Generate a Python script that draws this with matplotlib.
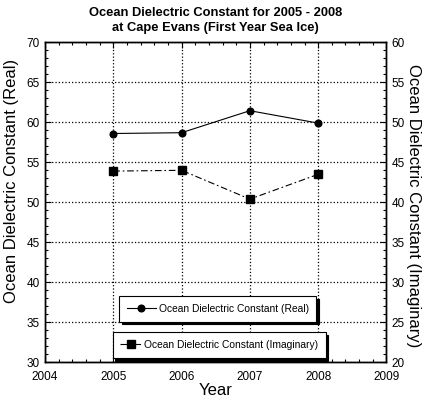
import numpy as np
import matplotlib
matplotlib.use("Agg")
import matplotlib.pyplot as plt
from matplotlib.ticker import MultipleLocator

plt.rcParams["font.family"] = ["Liberation Sans", "DejaVu Sans"]

# ---------------------------------------------------------------------------
# Data
# ---------------------------------------------------------------------------
years = [2005, 2006, 2007, 2008]
real_vals = [58.6, 58.7, 61.45, 59.9]
imag_vals = [43.9, 44.0, 40.4, 43.5]

# ---------------------------------------------------------------------------
# Plot
# ---------------------------------------------------------------------------
fig = plt.figure(figsize=(4.24, 3.98), dpi=100)
ax = fig.add_axes([0.106, 0.0897, 0.8055, 0.804])
ax2 = ax.twinx()

l1, = ax.plot(years, real_vals, color="black", lw=0.8, marker="o", ms=4.8,
              label="Ocean Dielectric Constant (Real)")
l2, = ax2.plot(years, imag_vals, color="black", lw=0.8, marker="s", ms=5.5,
               dashes=(6, 2.5, 1.5, 2.5),
               label="Ocean Dielectric Constant (Imaginary)")

ax.set_xlim(2004, 2009)
ax.set_ylim(30, 70)
ax2.set_ylim(20, 60)

ax.xaxis.set_major_locator(MultipleLocator(1))
ax.xaxis.set_minor_locator(MultipleLocator(0.2))
ax.yaxis.set_major_locator(MultipleLocator(5))
ax.yaxis.set_minor_locator(MultipleLocator(1))
ax2.yaxis.set_major_locator(MultipleLocator(5))
ax2.yaxis.set_minor_locator(MultipleLocator(1))

for a in (ax, ax2):
    a.tick_params(which="both", direction="in", labelsize=8.5, width=0.8)
    a.tick_params(which="major", length=4)
    a.tick_params(which="minor", length=2.5)
    for sp in a.spines.values():
        sp.set_linewidth(1.0)
ax.tick_params(axis="x", which="both", top=True, pad=6)

ax.grid(True, which="major", color="black", linestyle=":", lw=0.9)

ax.set_xlabel("Year", fontsize=12, labelpad=0)
ax.set_ylabel("Ocean Dielectric Constant (Real)", fontsize=12, va="center")
ax.yaxis.set_label_coords(-0.097, 0.567)
ax2.set_ylabel("Ocean Dielectric Constant (Imaginary)", fontsize=12,
               rotation=270, va="center")
ax2.yaxis.set_label_coords(1.08, 0.488)
ax.set_title("Ocean Dielectric Constant for 2005 - 2008\n"
             "at Cape Evans (First Year Sea Ice)",
             fontsize=9.3, fontweight="bold", pad=8, linespacing=1.3)

shadow = {"color": "black", "alpha": 1.0}
leg_kw = dict(loc="center", fontsize=7.4, fancybox=False, shadow=shadow,
              framealpha=1, edgecolor="black", handletextpad=0.3,
              borderpad=0.75, borderaxespad=0)
leg1 = ax2.legend(handles=[l1], bbox_to_anchor=(0.506, 0.167),
                  handlelength=2.8, **leg_kw)
leg1.get_frame().set_linewidth(0.8)
ax2.add_artist(leg1)
leg2 = ax2.legend(handles=[l2], bbox_to_anchor=(0.51, 0.054),
                  handlelength=2.0, **leg_kw)
leg2.get_frame().set_linewidth(0.8)

fig.savefig("out.png", dpi=100)
